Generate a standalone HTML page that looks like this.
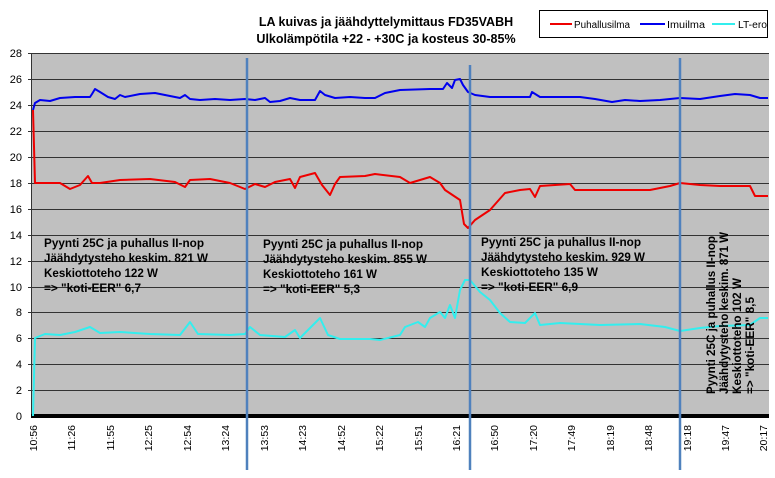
<!DOCTYPE html>
<html><head><meta charset="utf-8"><style>
body{margin:0;background:#fff;}
svg{display:block;font-family:"Liberation Sans",sans-serif;}
</style></head><body>
<svg width="775" height="478" viewBox="0 0 775 478">
<rect x="32" y="53" width="737" height="363" fill="#c0c0c0"/>
<g stroke="#333" stroke-width="1">
<line x1="28" y1="53.5" x2="769" y2="53.5"/><line x1="28" y1="79.5" x2="769" y2="79.5"/>
<line x1="28" y1="105.5" x2="769" y2="105.5"/><line x1="28" y1="131.5" x2="769" y2="131.5"/>
<line x1="28" y1="157.5" x2="769" y2="157.5"/><line x1="28" y1="183.5" x2="769" y2="183.5"/>
<line x1="28" y1="209.5" x2="769" y2="209.5"/><line x1="28" y1="235.5" x2="769" y2="235.5"/>
<line x1="28" y1="261.5" x2="769" y2="261.5"/><line x1="28" y1="287.5" x2="769" y2="287.5"/>
<line x1="28" y1="312.5" x2="769" y2="312.5"/><line x1="28" y1="338.5" x2="769" y2="338.5"/>
<line x1="28" y1="364.5" x2="769" y2="364.5"/><line x1="28" y1="390.5" x2="769" y2="390.5"/>
<line x1="31.5" y1="53" x2="31.5" y2="416"/>
</g>
<line x1="31" y1="416" x2="769" y2="416" stroke="#000" stroke-width="4"/>
<g font-size="11" text-anchor="end" fill="#000">
<text x="22" y="57">28</text><text x="22" y="83">26</text><text x="22" y="109">24</text><text x="22" y="135">22</text>
<text x="22" y="161">20</text><text x="22" y="187">18</text><text x="22" y="213">16</text><text x="22" y="239">14</text>
<text x="22" y="265">12</text><text x="22" y="291">10</text><text x="22" y="316">8</text><text x="22" y="342">6</text>
<text x="22" y="368">4</text><text x="22" y="394">2</text><text x="22" y="420">0</text>
</g>
<g font-size="10.5" fill="#000" text-anchor="end">
<text transform="translate(37,425) rotate(-90)">10:56</text>
<text transform="translate(75,425) rotate(-90)">11:26</text>
<text transform="translate(114,425) rotate(-90)">11:55</text>
<text transform="translate(152,425) rotate(-90)">12:25</text>
<text transform="translate(191,425) rotate(-90)">12:54</text>
<text transform="translate(229,425) rotate(-90)">13:24</text>
<text transform="translate(268,425) rotate(-90)">13:53</text>
<text transform="translate(306,425) rotate(-90)">14:23</text>
<text transform="translate(345,425) rotate(-90)">14:52</text>
<text transform="translate(383,425) rotate(-90)">15:22</text>
<text transform="translate(422,425) rotate(-90)">15:51</text>
<text transform="translate(460,425) rotate(-90)">16:21</text>
<text transform="translate(498,425) rotate(-90)">16:50</text>
<text transform="translate(537,425) rotate(-90)">17:20</text>
<text transform="translate(575,425) rotate(-90)">17:49</text>
<text transform="translate(614,425) rotate(-90)">18:19</text>
<text transform="translate(652,425) rotate(-90)">18:48</text>
<text transform="translate(691,425) rotate(-90)">19:18</text>
<text transform="translate(729,425) rotate(-90)">19:47</text>
<text transform="translate(767,425) rotate(-90)">20:17</text>
</g>
<g fill="none" stroke-width="2" stroke-linejoin="round">
<polyline stroke="#0000ee" points="33,110 35,103 40,100 50,101 60,98 75,97 90,97 92,94 95,89 100,92 108,97 115,99 120,95 125,97 140,94 155,93 170,96 180,98 185,95 190,99 200,100 215,99 230,100 245,99 255,100 265,98 270,102 280,101 290,98 300,100 315,100 320,91 325,95 335,98 350,97 365,98 375,98 385,93 400,90 430,89 443,89 447,83 452,88 455,80 460,79 463,85 468,92 475,95 490,97 530,97 532,92 540,97 560,97 580,97 595,99 612,102 625,100 640,101 660,100 680,98 700,99 720,96 735,94 750,95 760,98 768,98"/>
<polyline stroke="#ee0000" points="33,110 35,183 45,183 60,183 70,189 80,185 88,176 92,183 100,183 120,180 150,179 175,182 185,187 190,180 210,179 230,183 245,189 255,184 265,187 275,182 290,179 295,188 300,177 315,173 322,185 330,195 335,184 340,177 365,176 375,174 400,177 410,183 420,180 430,177 440,183 445,190 460,200 464,224 468,228 475,220 490,210 505,193 520,190 530,189 535,197 540,186 570,184 575,190 600,190 650,190 670,186 680,183 700,185 720,186 750,186 755,196 768,196"/>
<polyline stroke="#33eeee" points="33,416 35,338 45,334 60,335 75,332 90,327 100,333 120,332 150,334 180,335 190,322 198,334 230,335 245,334 250,327 260,335 285,337 295,330 300,338 320,318 328,335 340,339 370,339 380,340 400,335 405,327 418,322 425,327 430,318 440,312 445,318 450,305 455,318 460,290 465,280 470,280 480,292 490,300 500,313 510,322 525,323 535,313 540,325 560,323 600,325 640,324 665,327 680,331 700,328 720,326 750,325 760,318 768,318"/>
</g>
<g stroke="#4f81bd" stroke-width="2.5">
<line x1="247" y1="58" x2="247" y2="470"/>
<line x1="470" y1="65" x2="470" y2="470"/>
<line x1="680" y1="58" x2="680" y2="470"/>
</g>
<g font-size="12" font-weight="bold" fill="#000">
<text x="44" y="247" textLength="160" lengthAdjust="spacingAndGlyphs">Pyynti 25C ja puhallus II-nop</text>
<text x="44" y="262" textLength="164" lengthAdjust="spacingAndGlyphs">Jäähdytysteho keskim. 821 W</text>
<text x="44" y="277" textLength="114" lengthAdjust="spacingAndGlyphs">Keskiottoteho 122 W</text>
<text x="44" y="292" textLength="97" lengthAdjust="spacingAndGlyphs">=&gt; "koti-EER" 6,7</text>
<text x="263" y="248" textLength="160" lengthAdjust="spacingAndGlyphs">Pyynti 25C ja puhallus II-nop</text>
<text x="263" y="263" textLength="164" lengthAdjust="spacingAndGlyphs">Jäähdytysteho keskim. 855 W</text>
<text x="263" y="278" textLength="114" lengthAdjust="spacingAndGlyphs">Keskiottoteho 161 W</text>
<text x="263" y="293" textLength="97" lengthAdjust="spacingAndGlyphs">=&gt; "koti-EER" 5,3</text>
<text x="481" y="246" textLength="160" lengthAdjust="spacingAndGlyphs">Pyynti 25C ja puhallus II-nop</text>
<text x="481" y="261" textLength="164" lengthAdjust="spacingAndGlyphs">Jäähdytysteho keskim. 929 W</text>
<text x="481" y="276" textLength="117" lengthAdjust="spacingAndGlyphs">Keskiottoteho 135  W</text>
<text x="481" y="291" textLength="97" lengthAdjust="spacingAndGlyphs">=&gt; "koti-EER" 6,9</text>
<g transform="translate(0,394)">
<text transform="translate(715,0) rotate(-90)" textLength="158" lengthAdjust="spacingAndGlyphs">Pyynti 25C ja puhallus II-nop</text>
<text transform="translate(728,0) rotate(-90)" textLength="162" lengthAdjust="spacingAndGlyphs">Jäähdytysteho keskim. 871 W</text>
<text transform="translate(741,0) rotate(-90)" textLength="116" lengthAdjust="spacingAndGlyphs">Keskiottoteho 102 W</text>
<text transform="translate(754,0) rotate(-90)" textLength="97" lengthAdjust="spacingAndGlyphs">=&gt; "koti-EER" 8,5</text>
</g>
</g>
<g font-size="12.5" font-weight="bold" text-anchor="middle" fill="#000">
<text x="386" y="26">LA kuivas ja jäähdyttelymittaus FD35VABH</text>
<text x="386" y="43">Ulkolämpötila +22 - +30C ja kosteus 30-85%</text>
</g>
<rect x="539.5" y="10.5" width="228" height="27" fill="#fff" stroke="#000"/>
<g stroke-width="2">
<line x1="550" y1="24" x2="572" y2="24" stroke="#ee0000"/>
<line x1="640" y1="24" x2="665" y2="24" stroke="#0000ee"/>
<line x1="712" y1="24" x2="735" y2="24" stroke="#33eeee"/>
</g>
<g font-size="10" fill="#000">
<text x="574" y="28" textLength="56" lengthAdjust="spacingAndGlyphs">Puhallusilma</text>
<text x="667" y="28" textLength="38" lengthAdjust="spacingAndGlyphs">Imuilma</text>
<text x="738" y="28" textLength="29" lengthAdjust="spacingAndGlyphs">LT-ero</text>
</g>
</svg>
</body></html>
